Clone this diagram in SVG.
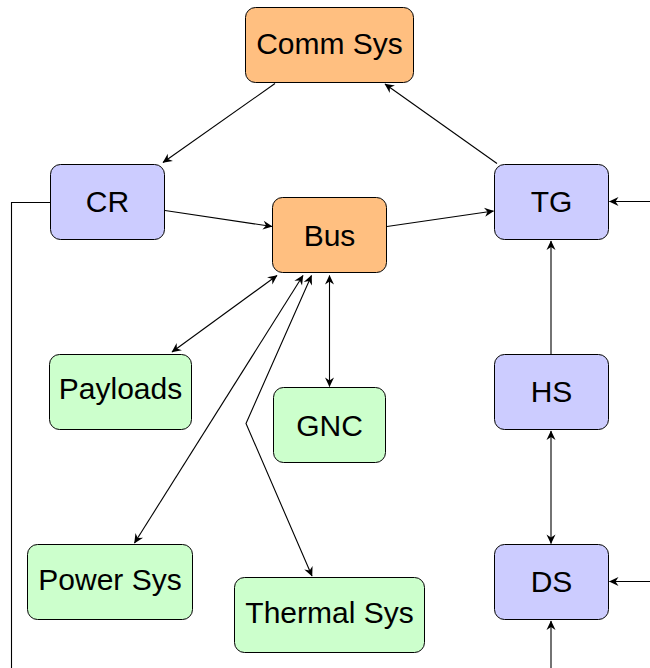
<svg xmlns="http://www.w3.org/2000/svg" width="650" height="668" viewBox="0 0 650 668">
<style>
.n rect{stroke:#000;stroke-width:1}
.o rect{fill:#FFBF80}
.b rect{fill:#CCCCFF}
.g rect{fill:#CCFFCC}
.n text{font-family:"Liberation Sans",Arial,sans-serif;font-size:30px;text-anchor:middle;fill:#000}
#edges path{fill:none;stroke:#000;stroke-width:1.1}
</style>
<defs>
<marker id="ah" viewBox="-11 -6 13 12" refX="0" refY="0" markerWidth="13" markerHeight="12" markerUnits="userSpaceOnUse" orient="auto-start-reverse">
<path d="M0.5,0 L-9,-4.5 L-6,0 L-9,4.5 Z" fill="#000"/>
</marker>
</defs>
<rect width="650" height="668" fill="#fff"/>
<g id="edges">
<path d="M275,83.5 L163,162.5" marker-end="url(#ah)"/>
<path d="M497,163.5 L385,84" marker-end="url(#ah)"/>
<path d="M165,210.5 L272,226.5" marker-end="url(#ah)"/>
<path d="M387,226.5 L493.5,211" marker-end="url(#ah)"/>
<path d="M650,201.5 L609.5,201.5" marker-end="url(#ah)"/>
<path d="M650,581.5 L609.5,581.5" marker-end="url(#ah)"/>
<path d="M551,354 L551,241" marker-end="url(#ah)"/>
<path d="M551,431 L551,543.5" marker-start="url(#ah)" marker-end="url(#ah)"/>
<path d="M551,668 L551,621" marker-end="url(#ah)"/>
<path d="M50,202.5 H11.5 V668"/>
<path d="M277,275.5 L172,352" marker-start="url(#ah)" marker-end="url(#ah)"/>
<path d="M329.5,275.5 L329.5,386.5" marker-start="url(#ah)" marker-end="url(#ah)"/>
<path d="M303,275.5 L134.5,543" marker-start="url(#ah)" marker-end="url(#ah)"/>
<path d="M311.5,275.5 L246,423.5 L312,576" marker-start="url(#ah)" marker-end="url(#ah)"/>
</g>
<g id="comm" class="n o"><rect x="245.5" y="7.5" width="168" height="75" rx="10"/><text x="329.5" y="54">Comm Sys</text></g>
<g id="cr" class="n b"><rect x="50.5" y="164.5" width="114" height="75" rx="10"/><text x="107.5" y="212">CR</text></g>
<g id="bus" class="n o"><rect x="272.5" y="197.5" width="114" height="75" rx="10"/><text x="329.5" y="246">Bus</text></g>
<g id="tg" class="n b"><rect x="494.5" y="164.5" width="114" height="75" rx="10"/><text x="551.5" y="212">TG</text></g>
<g id="hs" class="n b"><rect x="494.5" y="354.5" width="114" height="75" rx="10"/><text x="551.5" y="402">HS</text></g>
<g id="ds" class="n b"><rect x="494.5" y="544.5" width="114" height="75" rx="10"/><text x="551.5" y="592">DS</text></g>
<g id="payloads" class="n g"><rect x="49.5" y="354.5" width="142" height="75" rx="10"/><text x="120.5" y="399">Payloads</text></g>
<g id="gnc" class="n g"><rect x="273.5" y="387.5" width="112" height="75" rx="10"/><text x="329.5" y="436">GNC</text></g>
<g id="power" class="n g"><rect x="27.5" y="544.5" width="165" height="75" rx="10"/><text x="110" y="590">Power Sys</text></g>
<g id="thermal" class="n g"><rect x="234.5" y="577.5" width="190" height="75" rx="10"/><text x="329.5" y="623">Thermal Sys</text></g>
</svg>
